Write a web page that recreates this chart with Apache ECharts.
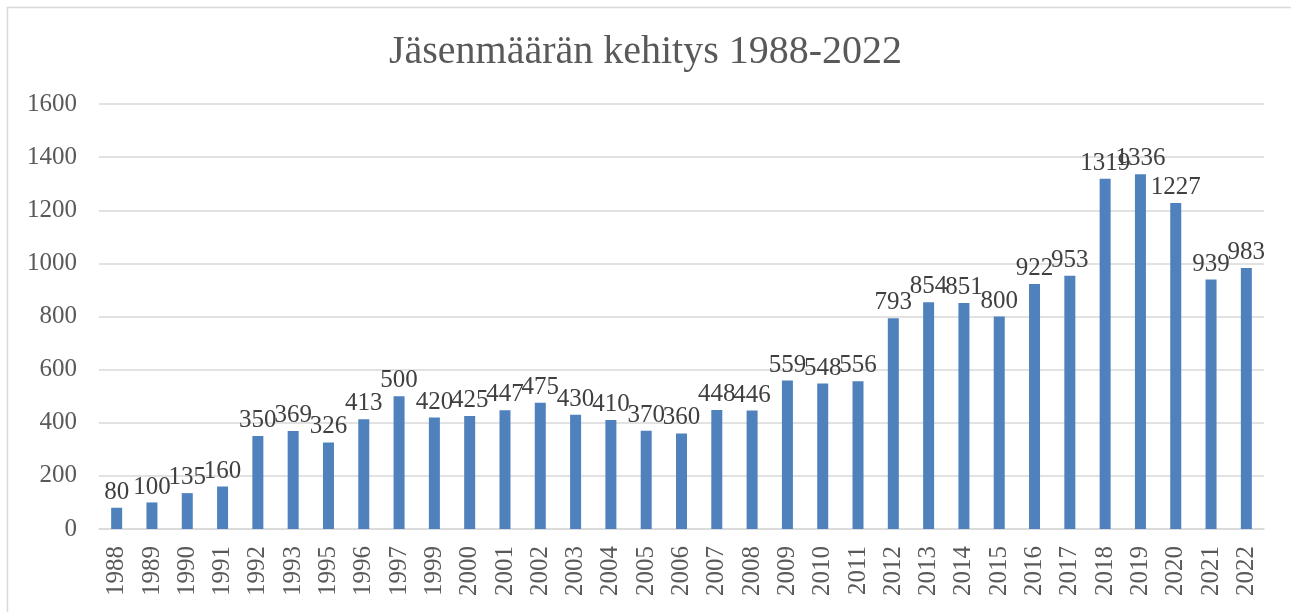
<!DOCTYPE html>
<html>
<head>
<meta charset="utf-8">
<script src="https://cdn.jsdelivr.net/npm/echarts@6/dist/echarts.min.js"></script>
<style>
  html, body { margin: 0; padding: 0; background: #fff; }
  #chart { width: 1291px; height: 612px; }
</style>
</head>
<body>
<div id="chart"></div>
<script>
const years = ["1988", "1989", "1990", "1991", "1992", "1993", "1995", "1996", "1997", "1999",
  "2000", "2001", "2002", "2003", "2004", "2005", "2006", "2007", "2008", "2009",
  "2010", "2011", "2012", "2013", "2014", "2015", "2016", "2017", "2018", "2019",
  "2020", "2021", "2022"];
const members = [80, 100, 135, 160, 350, 369, 326, 413, 500, 420,
  425, 447, 475, 430, 410, 370, 360, 448, 446, 559,
  548, 556, 793, 854, 851, 800, 922, 953, 1319, 1336,
  1227, 939, 983];

const FONT = "'Liberation Serif', 'DejaVu Serif', serif";
const BAR_COLOR = "#4f81bd";

const chart = echarts.init(document.getElementById("chart"));

chart.setOption({
  animation: false,
  backgroundColor: "#fff",
  title: {
    text: "Jäsenmäärän kehitys 1988-2022",
    left: "center",
    top: 27,
    textStyle: {
      fontFamily: FONT,
      fontSize: 40,
      fontWeight: "normal",
      color: "#595959",
    },
  },
  // outer chart border
  graphic: [{
    type: "rect",
    shape: { x: 7.5, y: 7.5, width: 1300, height: 620 },
    style: { fill: "none", stroke: "#d9d9d9", lineWidth: 1.5 },
    silent: true,
  }],
  grid: {
    left: 99,
    right: 27,
    top: 104,
    bottom: 83,
    containLabel: false,
  },
  xAxis: {
    type: "category",
    data: years,
    axisLine: { lineStyle: { color: "#d9d9d9", width: 1.5 } },
    axisTick: { show: false },
    axisLabel: {
      rotate: 90,
      interval: 0,
      margin: 17,
      fontFamily: FONT,
      fontSize: 25,
      color: "#595959",
    },
  },
  yAxis: {
    type: "value",
    min: 0,
    max: 1600,
    interval: 200,
    axisLine: { show: false },
    axisTick: { show: false },
    axisLabel: {
      margin: 22,
      fontFamily: FONT,
      fontSize: 25,
      color: "#595959",
      formatter: (v) => String(v),
    },
    splitLine: { lineStyle: { color: "#d9d9d9", width: 1.5 } },
  },
  series: [{
    type: "bar",
    data: members,
    barWidth: 11,
    itemStyle: { color: BAR_COLOR },
    label: {
      show: true,
      position: "top",
      distance: 3,
      fontFamily: FONT,
      fontSize: 25,
      color: "#404040",
    },
  }],
});
</script>
</body>
</html>
